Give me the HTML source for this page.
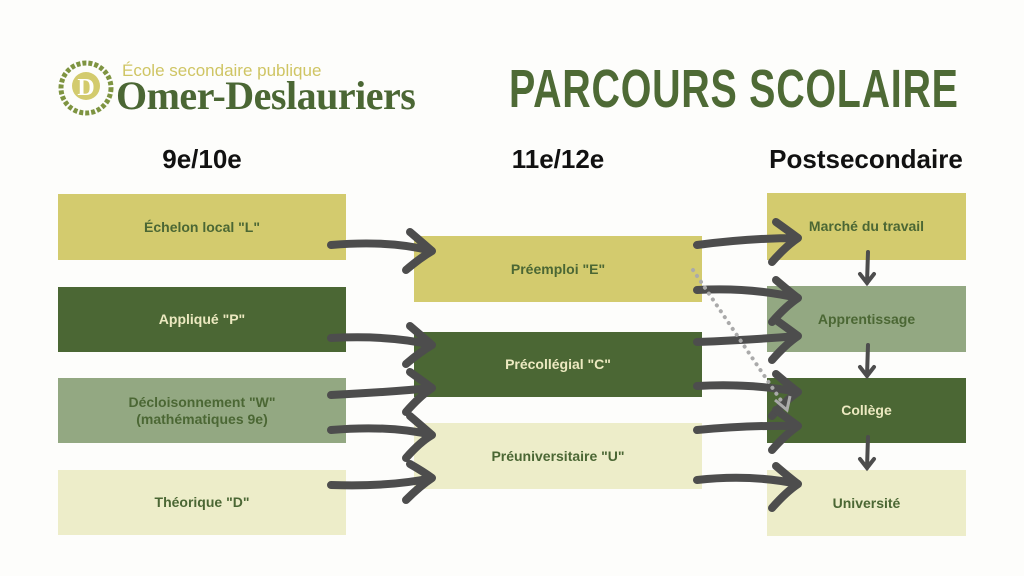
<!DOCTYPE html>
<html><head><meta charset="utf-8"><style>
html,body{margin:0;padding:0;background:#fdfdfb;}
body{width:1024px;height:576px;position:relative;overflow:hidden;font-family:"Liberation Sans",sans-serif;}
.b{position:absolute;display:flex;align-items:center;justify-content:center;text-align:center;font-weight:bold;font-size:14px;color:#4b6734;line-height:17px;}
.y{background:#d3cb6e}.g{background:#4b6734;color:#ece9c0}.s{background:#93a882}.p{background:#ededc9}
.h{position:absolute;top:144px;font-weight:bold;font-size:26px;color:#111;text-align:center;width:260px;white-space:nowrap}
</style></head><body>
<svg style="position:absolute;left:58px;top:60px" width="56" height="56" viewBox="0 0 56 56">
<circle cx="28" cy="28" r="25" fill="none" stroke="#7e9441" stroke-width="5" stroke-dasharray="4 2"/>
<circle cx="28" cy="26" r="14" fill="#d3cb6e"/>
<text x="28" y="35" font-family="Liberation Serif" font-weight="bold" font-size="24" fill="#fff" text-anchor="middle">D</text>
</svg>
<div style="position:absolute;left:122px;top:61px;font-size:17px;color:#cfc564;">École secondaire publique</div>
<div style="position:absolute;left:116px;top:72px;font-family:'Liberation Serif',serif;font-weight:bold;font-size:40px;color:#4b6734;letter-spacing:-0.5px;white-space:nowrap;">Omer-Deslauriers</div>
<div style="position:absolute;left:509px;top:58px;font-size:54px;font-weight:bold;color:#4e6a35;transform:scaleX(0.73);transform-origin:left top;white-space:nowrap;letter-spacing:1px;">PARCOURS SCOLAIRE</div>
<div class="h" style="left:72px">9e/10e</div>
<div class="h" style="left:428px">11e/12e</div>
<div class="h" style="left:736px">Postsecondaire</div>
<div class="b y" style="left:58px;top:194px;width:288px;height:66px">Échelon local "L"</div>
<div class="b g" style="left:58px;top:287px;width:288px;height:65px">Appliqué "P"</div>
<div class="b s" style="left:58px;top:378px;width:288px;height:65px">Décloisonnement "W"<br>(mathématiques 9e)</div>
<div class="b p" style="left:58px;top:470px;width:288px;height:65px">Théorique "D"</div>
<div class="b y" style="left:414px;top:236px;width:288px;height:66px">Préemploi "E"</div>
<div class="b g" style="left:414px;top:332px;width:288px;height:65px">Précollégial "C"</div>
<div class="b p" style="left:414px;top:423px;width:288px;height:66px">Préuniversitaire "U"</div>
<div class="b y" style="left:767px;top:193px;width:199px;height:67px">Marché du travail</div>
<div class="b s" style="left:767px;top:286px;width:199px;height:66px">Apprentissage</div>
<div class="b g" style="left:767px;top:378px;width:199px;height:65px">Collège</div>
<div class="b p" style="left:767px;top:470px;width:199px;height:66px">Université</div>
<svg style="position:absolute;left:0;top:0" width="1024" height="576">
<g fill="none" stroke="#4d4d4d" stroke-width="8" stroke-linecap="round" stroke-linejoin="round">
<path d="M331 245 Q390 240 432 251 M410 232 Q424 244 432 251 Q420 258 406 270"/>
<path d="M331 338 Q390 335 432 345 M410 326 Q424 338 432 345 Q420 352 406 364"/>
<path d="M331 395 Q390 392 432 388 M410 372 Q424 382 432 388 Q420 396 406 412"/>
<path d="M331 430 Q390 425 432 435 M410 416 Q424 428 432 435 Q420 442 406 458"/>
<path d="M331 485 Q390 487 432 478 M410 464 Q424 472 432 478 Q420 486 406 500"/>
<path d="M697 245 Q750 238 798 238 M776 222 Q790 232 798 238 Q786 246 772 262"/>
<path d="M697 290 Q750 287 798 298 M776 280 Q790 292 798 298 Q786 306 772 322"/>
<path d="M697 342 Q750 340 798 336 M776 320 Q790 330 798 336 Q786 344 772 360"/>
<path d="M697 386 Q750 383 798 392 M776 374 Q790 386 798 392 Q786 400 772 416"/>
<path d="M697 430 Q750 425 798 426 M776 410 Q790 420 798 426 Q786 434 772 450"/>
<path d="M697 480 Q750 474 798 484 M776 466 Q790 478 798 484 Q786 492 772 508"/>
</g>
<g fill="none" stroke="#4d4d4d" stroke-width="4" stroke-linecap="round">
<path d="M868 252 L867 283 M860 274 L867 283 L874 274"/>
<path d="M868 345 L867 376 M860 367 L867 376 L874 367"/>
<path d="M868 437 L867 468 M860 459 L867 468 L874 459"/>
</g>
<path d="M693 270 L784 405" stroke="#aaa" stroke-width="4" stroke-dasharray="0.1 7" stroke-linecap="round" fill="none"/>
<path d="M775 400 L787 410 L790 396" stroke="#aaa" stroke-width="3" fill="none"/>
</svg>
</body></html>
